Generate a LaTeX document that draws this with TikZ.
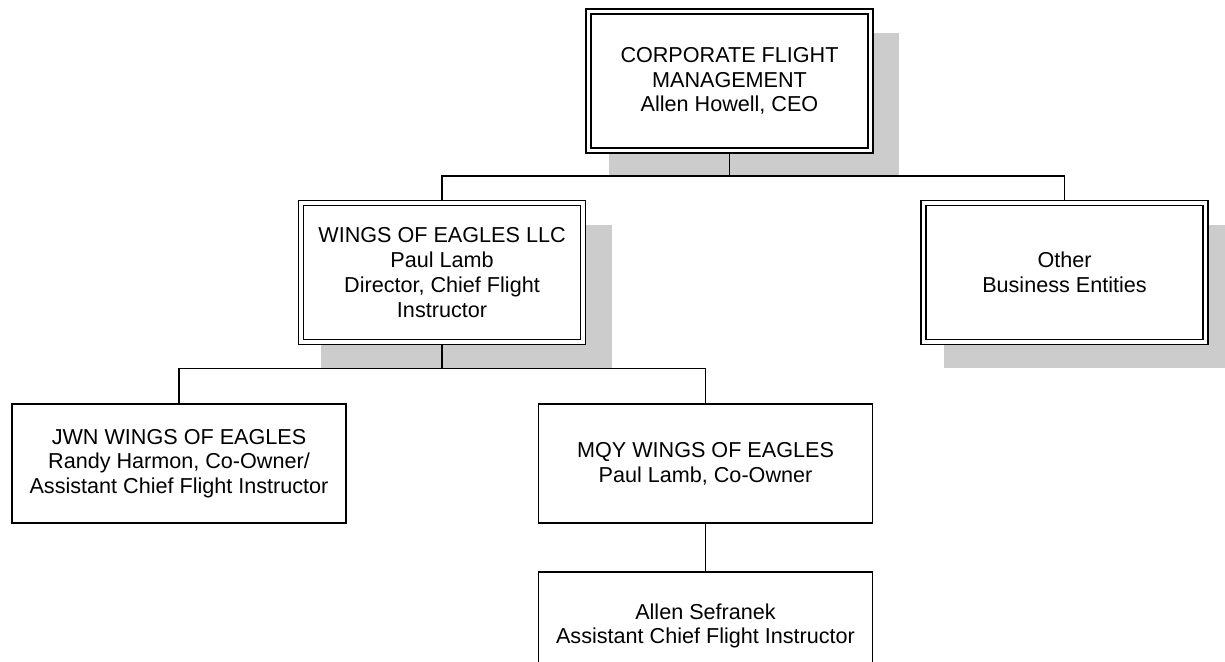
\documentclass[tikz,border=0pt]{standalone}
\usepackage{fontspec}
\setmainfont{Liberation Sans}
\usetikzlibrary{shadows}

\begin{document}
\begin{tikzpicture}[x=0.5pt,y=-0.5pt,
    orgbox/.style={draw,line width=0.95pt,fill=white,align=center,inner sep=0pt,
      font=\fontsize{10.8}{12.35}\selectfont},
    headbox/.style={orgbox,double,line width=0.9pt,double distance=1.6pt,outer sep=1.7pt,
      minimum width=141pt,minimum height=69.5pt,
      drop shadow={shadow xshift=12pt,shadow yshift=-11.5pt,shadow scale=1.03,
        fill=gray!40,opacity=1}},
    unitbox/.style={orgbox,minimum width=167pt,minimum height=59.5pt},
    conn/.style={line width=0.95pt}]
  \useasboundingbox (0,0) rectangle (1225,661);

  % top level
  \node[headbox] (cfm) at (729.5,81) {CORPORATE FLIGHT\\MANAGEMENT\\Allen Howell, CEO};

  % second level
  \node[headbox] (woe) at (442,272.5) {WINGS OF EAGLES LLC\\Paul Lamb\\Director, Chief Flight\\Instructor};
  \node[headbox] (other) at (1064.5,272.5) {Other\\Business Entities};

  % flight schools
  \node[unitbox] (jwn) at (179,463.5) {JWN WINGS OF EAGLES\\Randy Harmon, Co-Owner/\\Assistant Chief Flight Instructor};
  \node[unitbox] (mqy) at (705.5,463.5) {MQY WINGS OF EAGLES\\Paul Lamb, Co-Owner};
  \node[unitbox,minimum height=54pt] (sef) at (705.5,626) {Allen Sefranek\\Assistant Chief Flight Instructor};

  % connectors
  \coordinate (topbus) at (730,176);
  \coordinate (midbus) at (442,368.5);
  \draw[conn] (cfm.south) -- (cfm.south |- topbus);
  \draw[conn] (woe.north) |- (topbus) -| (other.north);
  \draw[conn] (woe.south) -- (woe.south |- midbus);
  \draw[conn] (jwn.north) |- (midbus) -| (mqy.north);
  \draw[conn] (mqy.south) -- (sef.north);
\end{tikzpicture}
\end{document}
